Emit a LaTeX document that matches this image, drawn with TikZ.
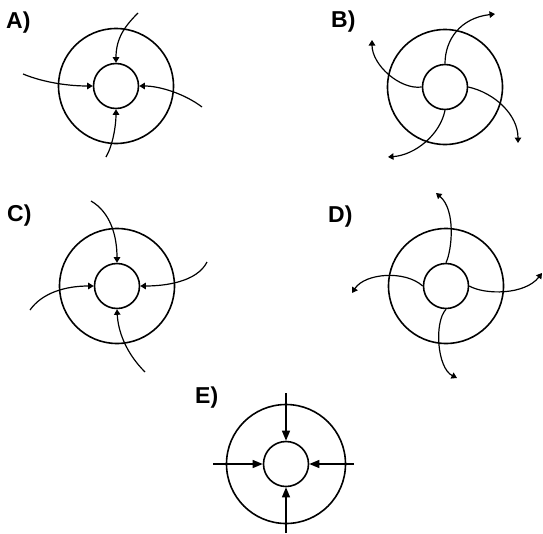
\documentclass[tikz,border=0pt]{standalone}
\usepackage{fontspec}
\setmainfont{Liberation Sans}
\usetikzlibrary{positioning}
\usetikzlibrary{arrows.meta}
\tikzset{>={Triangle[width=6.5pt,length=5.5pt]}}

\begin{document}
\begin{tikzpicture}[x=1pt, y=-1pt, ringnode/.style={circle, draw=black, line width=1.6pt, minimum size=115pt, inner sep=0pt}, hubnode/.style={circle, draw=black, line width=1.6pt, minimum size=45pt, inner sep=0pt}, titlenode/.style={anchor=base west, inner sep=0pt, font=\fontsize{23}{23}\selectfont\bfseries}, flow/.style={line width=1.2pt}]
    \useasboundingbox (0,0) rectangle (543,533);

    %Nodes
    \node[titlenode](titleA) at (6,28) {A)};
    \node[titlenode](titleB) at (331,27) {B)};
    \node[titlenode](titleC) at (7,221) {C)};
    \node[titlenode](titleD) at (328,222) {D)};
    \node[titlenode](titleE) at (195,403) {E)};

    \node[ringnode](ringA) at (116,86) {};
    \node[hubnode](hubA) at (ringA.center) {};
    \node[ringnode](ringB) at (445,87) {};
    \node[hubnode](hubB) at (ringB.center) {};
    \node[ringnode](ringC) at (117,286) {};
    \node[hubnode](hubC) at (ringC.center) {};
    \node[ringnode](ringD) at (446,286) {};
    \node[hubnode](hubD) at (ringD.center) {};
    \node[ringnode, minimum size=119pt](ringE) at (286,464) {};
    \node[hubnode](hubE) at (ringE.center) {};

    %Free ends
    \coordinate (endA1) at (138,13);
    \coordinate (endA2) at (23,74);
    \coordinate (endA3) at (202,107);
    \coordinate (endA4) at (106,157);
    \coordinate (endB1) at (495,14);
    \coordinate (endB2) at (372,40);
    \coordinate (endB3) at (518,143);
    \coordinate (endB4) at (388,157);
    \coordinate (endC1) at (91,201);
    \coordinate (endC2) at (30,310);
    \coordinate (endC3) at (207,262);
    \coordinate (endC4) at (145,372);
    \coordinate (endD1) at (436,193);
    \coordinate (endD2) at (352,293);
    \coordinate (endD3) at (542,273);
    \coordinate (endD4) at (457,378);
    \coordinate (endE1) at (286,393);
    \coordinate (endE2) at (213,464);
    \coordinate (endE3) at (354,464);
    \coordinate (endE4) at (286,533);

    %Lines
    \draw[flow,->] (endA1) .. controls (125,26) and (116,38) .. (hubA.north);
    \draw[flow,->] (endA2) .. controls (45,83) and (70,86) .. (hubA.west);
    \draw[flow,->] (endA3) .. controls (185,94) and (160,86) .. (hubA.east);
    \draw[flow,->] (endA4) .. controls (113,145) and (116,125) .. (hubA.south);

    \draw[flow,->] (hubB.north) .. controls (445,40) and (460,18) .. (endB1);
    \draw[flow,->] (hubB.west) .. controls (400,90) and (372,65) .. (endB2);
    \draw[flow,->] (hubB.east) .. controls (495,93) and (518,115) .. (endB3);
    \draw[flow,->] (hubB.south) .. controls (440,135) and (415,155) .. (endB4);

    \draw[flow,->] (endC1) .. controls (110,212) and (117,235) .. (hubC.north);
    \draw[flow,->] (endC2) .. controls (42,293) and (65,286) .. (hubC.west);
    \draw[flow,->] (endC3) .. controls (197,282) and (165,286) .. (hubC.east);
    \draw[flow,->] (endC4) .. controls (125,352) and (118,330) .. (hubC.south);

    \draw[flow,->] (hubD.north) .. controls (452,250) and (456,210) .. (endD1);
    \draw[flow,->] (hubD.west) .. controls (405,270) and (365,273) .. (endD2);
    \draw[flow,->] (hubD.east) .. controls (485,295) and (525,295) .. (endD3);
    \draw[flow,->] (hubD.south) .. controls (434,322) and (437,368) .. (endD4);

    \draw[flow,-{Triangle[width=8pt,length=10pt]}] (endE1) -- (hubE.north);
    \draw[flow,-{Triangle[width=8pt,length=10pt]}] (endE2) -- (hubE.west);
    \draw[flow,-{Triangle[width=8pt,length=10pt]}] (endE3) -- (hubE.east);
    \draw[flow,-{Triangle[width=8pt,length=10pt]}] (endE4) -- (hubE.south);

\end{tikzpicture}
\end{document}
